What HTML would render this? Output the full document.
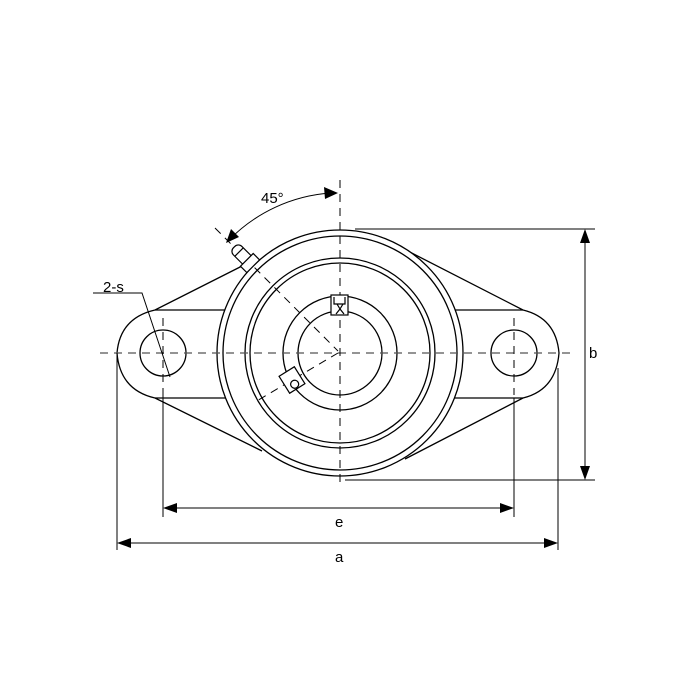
<!DOCTYPE html>
<html><head><style>body{margin:0;background:#fff}svg{display:block}</style></head><body>
<svg width="700" height="700" viewBox="0 0 700 700" xmlns="http://www.w3.org/2000/svg" font-family="Liberation Sans, sans-serif">
<g fill="none" stroke="#000" stroke-width="1.3">
<path d="M250,262 L155,310 Q120,318 117,353 Q120,390 155,398 L262,451"/>
<path d="M155,310 H230 M155,398 H230"/>
<path d="M400,247 L523,310 Q556,318 559,353 Q556,390 523,398 L405,459"/>
<path d="M450,310 H523 M450,398 H523"/>
<circle cx="163" cy="353" r="23"/>
<circle cx="514" cy="353" r="23"/>
<circle cx="340" cy="353" r="123" fill="#fff"/>
<circle cx="340" cy="353" r="117"/>
<circle cx="340" cy="353" r="95"/>
<circle cx="340" cy="353" r="90"/>
<circle cx="340" cy="353" r="57"/>
<circle cx="340" cy="353" r="42"/>
</g>
<g stroke="#555" stroke-width="1.2" stroke-dasharray="8,6" fill="none">
<line x1="100" y1="353" x2="570" y2="353"/>
<line x1="340" y1="180" x2="340" y2="485" stroke="#000" stroke-width="1"/>
<line x1="163" y1="318" x2="163" y2="395" stroke="#000" stroke-width="1"/>
<line x1="514" y1="318" x2="514" y2="395" stroke="#000" stroke-width="1"/>
<line x1="215" y1="228" x2="338" y2="351" stroke="#000" stroke-width="1"/>
<line x1="338" y1="353" x2="255" y2="402" stroke="#000" stroke-width="1"/>
</g>
<g stroke="#000" stroke-width="1.2" fill="#fff">
<rect x="331" y="295" width="17" height="20"/>
<path d="M334,297 V304 H345 V297 M337,304 L340,309 L343,304 M336,314 L340,309 L344,314" fill="none"/>
<g transform="translate(292,380) rotate(-32)">
<rect x="-9" y="-10" width="18" height="20"/>
<circle cx="0" cy="5" r="4" fill="none"/>
</g>
<g transform="translate(244,257) rotate(-45)">
<rect x="-6" y="-14" width="12" height="22" rx="5"/>
<path d="M-6,-7 H6" fill="none"/>
<rect x="-9" y="4" width="18" height="9"/>
</g>
</g>
<g stroke="#000" stroke-width="1" fill="none">
<line x1="355" y1="229" x2="595" y2="229"/>
<line x1="345" y1="480" x2="595" y2="480"/>
<line x1="585" y1="237" x2="585" y2="472"/>
<line x1="163" y1="395" x2="163" y2="517"/>
<line x1="514" y1="398" x2="514" y2="517"/>
<line x1="172" y1="508" x2="505" y2="508"/>
<line x1="117" y1="353" x2="117" y2="550"/>
<line x1="558" y1="368" x2="558" y2="550"/>
<line x1="126" y1="543" x2="549" y2="543"/>
<path d="M93,293 H142 L170,377"/>
<path d="M229,240 A158,158 0 0 1 330,193"/>
</g>
<g fill="#000">
<path d="M585,229 L580,243 L590,243Z"/>
<path d="M585,480 L580,466 L590,466Z"/>
<path d="M163,508 L177,503 L177,513Z"/>
<path d="M514,508 L500,503 L500,513Z"/>
<path d="M117,543 L131,538 L131,548Z"/>
<path d="M558,543 L544,538 L544,548Z"/>
<path d="M338,193 L324,187 L325,199Z"/>
<path d="M226,243 L231,229 L239,237Z"/>
</g>
<g font-size="15" fill="#000">
<text x="261" y="203">45°</text>
<text x="103" y="292">2-s</text>
<text x="589" y="358">b</text>
<text x="335" y="527">e</text>
<text x="335" y="562">a</text>
</g>
</svg>
</body></html>
